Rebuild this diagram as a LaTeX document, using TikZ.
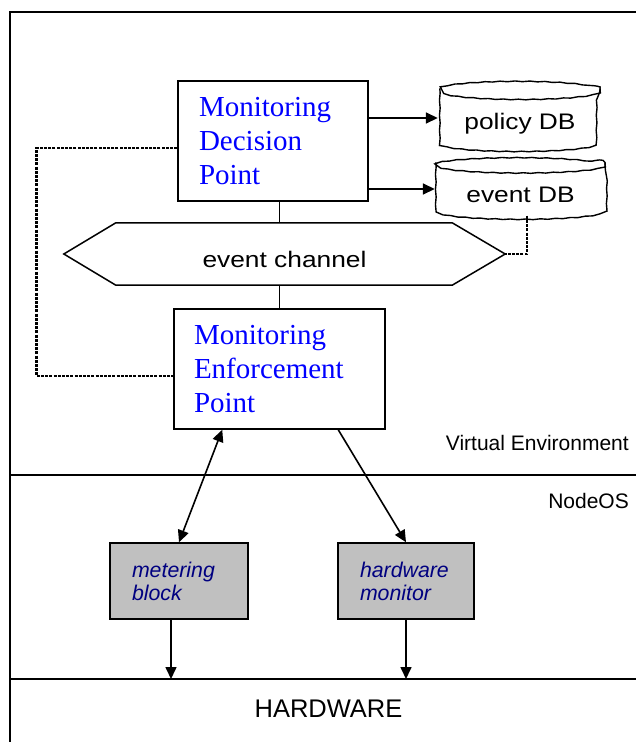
\documentclass[tikz,border=0pt]{standalone}
\usepackage{fontspec}
\setmainfont{Liberation Serif}
\newfontfamily\arialfont{Liberation Sans}
\newfontfamily\widesans[FakeStretch=1.17]{Liberation Sans}
\usetikzlibrary{arrows.meta,calc,decorations.pathmorphing}
\definecolor{boxblue}{RGB}{0,0,255}
\definecolor{labelnavy}{RGB}{0,0,128}
\definecolor{blockgray}{RGB}{192,192,192}

\begin{document}
\begin{tikzpicture}[x=1pt,y=-1pt,
  frame/.style={line width=1.6pt},
  pointbox/.style={draw, line width=1.5pt, align=left, inner sep=0pt,
    text=boxblue, font=\fontsize{29}{34}\selectfont, minimum height=120pt},
  osblock/.style={draw, line width=1.5pt, fill=blockgray, align=left, inner sep=0pt,
    text=labelnavy, font=\arialfont\itshape\fontsize{21.3}{23}\selectfont, minimum height=76pt},
  dbtext/.style={inner sep=0pt, font=\widesans\fontsize{22.5}{26}\selectfont, text depth=0pt},
  dbline/.style={line width=1.4pt, decorate, decoration={snake, amplitude=0.35pt, segment length=15pt}},
  conn/.style={line width=1.6pt},
  arr/.style={conn, -{Triangle[length=12pt,width=11pt]}},
  biarr/.style={conn, {Triangle[length=12pt,width=11pt]}-{Triangle[length=12pt,width=11pt]}},
  dotline/.style={line width=2.5pt, dash pattern=on 3pt off 1.2pt},
  layerlabel/.style={font=\arialfont\fontsize{21}{25}\selectfont, inner sep=0pt}]

\useasboundingbox (0,0) rectangle (636,742);

% outer frame and layer separators
\coordinate (nosline) at (10,475);
\coordinate (hwline) at (10,679);
\draw[frame] (636,12) -- (10,12) -- (10,742);
\draw[frame] (nosline) -- (636,475);
\draw[frame] (hwline) -- (636,679);

% decision and enforcement points
\node[pointbox, minimum width=190pt, text width=148pt] (mdp) at (273,141)
  {Monitoring\\Decision\\Point};
\node[pointbox, minimum width=211pt, text width=171pt] (mep) at (279.5,369)
  {Monitoring\\Enforcement\\Point};

% databases
\node[dbtext, minimum width=160pt, minimum height=59pt, text height=23pt] (policy) at (520,118) {policy DB};
\node[dbtext, minimum width=169pt, minimum height=53pt, text height=26pt] (evdb) at (520.5,189) {event DB};
\draw[dbline] (policy.north west) -- ($(policy.south west)+(0,-8)$)
  arc[start angle=180, end angle=0, x radius=80, y radius=8] -- (policy.north east);
\draw[dbline] (policy.north) ellipse [x radius=80, y radius=8];
\draw[dbline] (evdb.north west) -- ($(evdb.south west)+(0,-8)$)
  arc[start angle=180, end angle=0, x radius=84.5, y radius=8] -- (evdb.north east);
\draw[dbline] (evdb.north) ellipse [x radius=84.5, y radius=7.5];

% event channel
\node[dbtext, minimum width=441pt, minimum height=62pt, text height=26pt] (chan) at (284.5,254) {event channel};
\draw[conn, line width=1.5pt] (chan.west) -- ($(chan.north west)+(52,0)$) -- ($(chan.north east)+(-53,0)$)
  -- (chan.east) -- ($(chan.south east)+(-53,0)$) -- ($(chan.south west)+(52,0)$) -- cycle;

% NodeOS blocks
\node[osblock, minimum width=138pt, text width=94pt] (meter) at (179,581) {metering\\block};
\node[osblock, minimum width=136pt, text width=92pt] (hwmon) at (406,581) {hardware\\monitor};

% layer labels
\node[layerlabel, anchor=base east] (velabel) at (629,450) {Virtual Environment};
\node[layerlabel, anchor=base east] (noslabel) at (629,508) {NodeOS};
\node[layerlabel, anchor=base, font=\arialfont\fontsize{25.5}{30}\selectfont] (hwlabel) at (328.5,717) {HARDWARE};

% connectors
\draw[arr, shorten >=2pt] (mdp.east |- policy.west) -- (policy.west);
\draw[arr, shorten >=1pt] (mdp.east |- evdb.west) -- (evdb.west);
\draw[conn] (mep.north |- mdp.south) -- (mep.north |- chan.north);
\draw[conn] (chan.south -| mep.north) -- (mep.north);
\draw[dotline] ([yshift=-7pt]mdp.west) -- ++(-141,0) |- ([yshift=-7pt]mep.west);
\draw[dotline] ([xshift=6.5pt]evdb.south) |- (chan.east);
\draw[biarr] ($(mep.south west)+(49,0)$) -- (meter.north);
\draw[arr] ($(mep.south west)+(165,0)$) -- (hwmon.north);
\draw[arr] ([xshift=-8pt]meter.south) -- ([xshift=-8pt]meter.south |- hwline);
\draw[arr] (hwmon.south) -- (hwmon.south |- hwline);

\end{tikzpicture}
\end{document}
